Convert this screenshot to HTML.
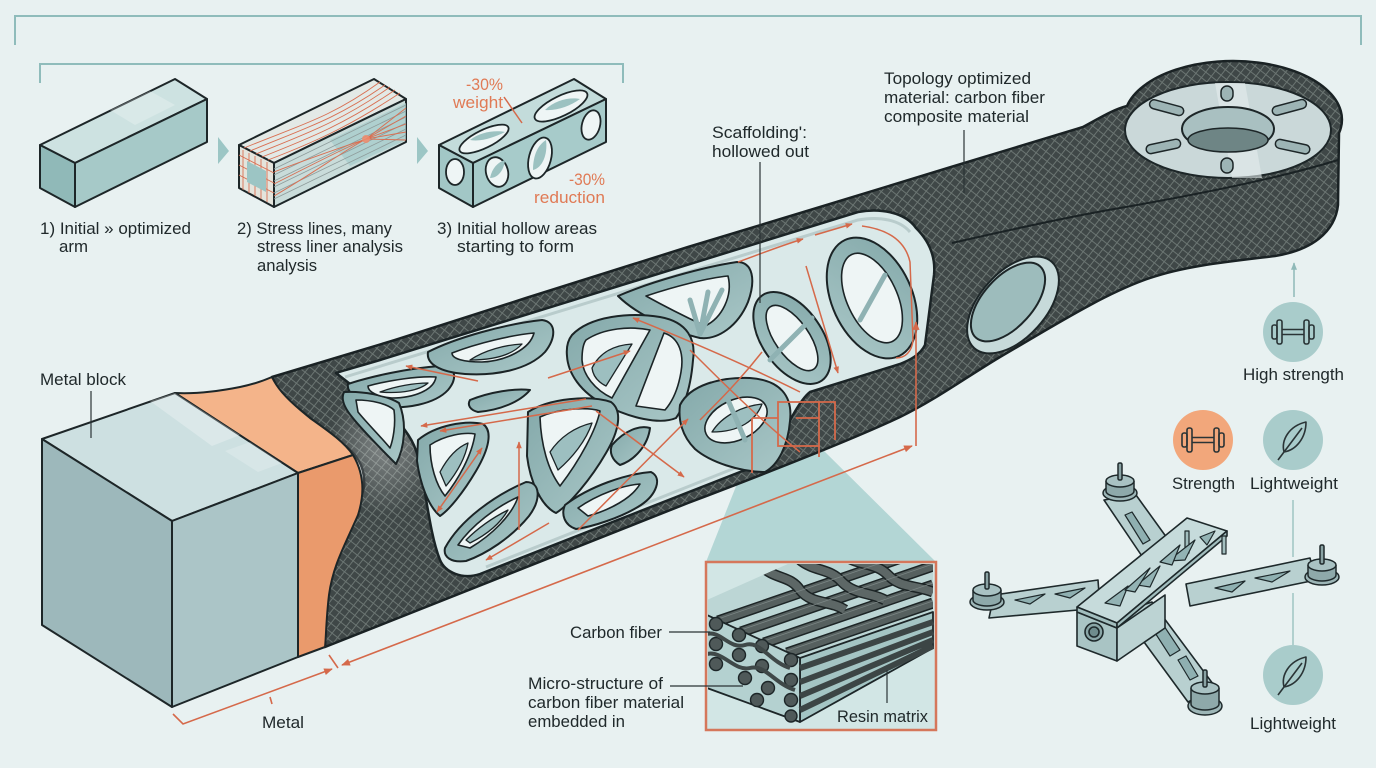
<!DOCTYPE html>
<html><head><meta charset="utf-8">
<style>html,body{margin:0;padding:0;background:#e8f1f1;}svg{display:block}</style>
</head>
<body>
<svg width="1376" height="768" viewBox="0 0 1376 768" xmlns="http://www.w3.org/2000/svg" font-family="'Liberation Sans', sans-serif">
<defs>
<pattern id="cf" width="7" height="7" patternUnits="userSpaceOnUse" patternTransform="rotate(38)">
<rect width="7" height="7" fill="#3f4747"/>
<path d="M0,0.5H7M0.5,0V7" stroke="#6b7572" stroke-width="1"/>
</pattern>
<marker id="ar" viewBox="0 0 10 8" refX="9" refY="4" markerWidth="9" markerHeight="7" markerUnits="userSpaceOnUse" orient="auto-start-reverse"><path d="M0,0L10,4L0,8z" fill="#d5694a"/></marker>
<marker id="as" viewBox="0 0 10 8" refX="9" refY="4" markerWidth="7" markerHeight="6" markerUnits="userSpaceOnUse" orient="auto-start-reverse"><path d="M0,0L10,4L0,8z" fill="#d5694a"/></marker>
<marker id="at" viewBox="0 0 10 8" refX="9" refY="4" markerWidth="8" markerHeight="6" markerUnits="userSpaceOnUse" orient="auto"><path d="M0,0L10,4L0,8z" fill="#8fb9b8"/></marker>
<linearGradient id="hole" x1="0" y1="0" x2="1" y2="1">
<stop offset="0" stop-color="#84a9aa"/><stop offset="1" stop-color="#a9c7c7"/>
</linearGradient>
<radialGradient id="sheen" cx="0.5" cy="0.5" r="0.5">
<stop offset="0" stop-color="#ffffff" stop-opacity="0.35"/><stop offset="1" stop-color="#ffffff" stop-opacity="0"/>
</radialGradient>
<clipPath id="fb"><rect x="708" y="564" width="226" height="164"/></clipPath>
<clipPath id="ftop"><polygon points="707,615 800,658 933,612 933,563 790,563 707,600"/></clipPath>
</defs>

<rect width="1376" height="768" fill="#e8f1f1"/>

<!-- brackets -->
<path d="M15,45 V16 H1361 V45" fill="none" stroke="#8fbcbb" stroke-width="2"/>
<path d="M40,83 V64 H623 V83" fill="none" stroke="#8fbcbb" stroke-width="2"/>

<!-- Box 1 -->
<g stroke="#1d2628" stroke-width="2" stroke-linejoin="round">
<polygon points="40,145 175,79 207,99 75,163" fill="#cde2e1"/>
<polygon points="75,163 207,99 207,142 75,207" fill="#a6c9c8"/>
<polygon points="40,145 75,163 75,207 40,188" fill="#90b9b8"/>
</g>
<polygon points="110,110 150,91 175,105 135,125" fill="#ffffff" opacity="0.25"/>

<!-- chevrons -->
<polygon points="218,137 229,151 218,164" fill="#9cc6c5"/>
<polygon points="417,137 428,151 417,164" fill="#9cc6c5"/>

<!-- Box 2 -->
<g stroke="#1d2628" stroke-width="2" stroke-linejoin="round">
<polygon points="239,145 374,79 406,99 274,163" fill="#e3e9e6"/>
<polygon points="274,163 406,99 406,142 274,207" fill="#c9dcda"/>
<polygon points="239,145 274,163 274,207 239,188" fill="#e4e4dc"/>
</g>
<polygon points="330,140 406,103 406,140 350,166" fill="#a9cdcc" opacity="0.8"/>
<g stroke="#8e9c9b" stroke-width="0.8" fill="none">
<path d="M274,169 L406,105 M274,175 L406,111 M274,181 L406,117 M274,187 L406,123 M274,193 L406,129 M274,199 L406,135"/>
</g>
<g stroke="#d96f52" stroke-width="0.9" fill="none">
<path d="M244,148 C300,125 330,118 380,82 M250,151 C300,130 335,120 385,85 M256,154 C305,134 340,122 390,87 M262,157 C310,138 345,124 395,90 M268,160 C315,142 350,126 400,93"/>
<path d="M274,172 C310,158 340,148 366,139 M274,184 C310,166 340,150 366,139 M274,196 C312,174 342,152 366,139 M366,139 L406,108 M366,139 L406,116 M366,139 L406,124 M366,139 L406,132 M366,139 L406,140"/>
<path d="M243,150 V190 M249,153 V193 M255,156 V196 M261,159 V199 M267,162 V202 M239,155 L274,173 M239,165 L274,183 M239,175 L274,193"/>
</g>
<polygon points="247,161 266,171 266,192 247,182" fill="#9cc5c4"/>
<circle cx="366" cy="139" r="4" fill="#f08a6a" opacity="0.85"/>

<!-- Box 3 -->
<g stroke="#1d2628" stroke-width="2" stroke-linejoin="round">
<polygon points="439,145 574,79 606,99 473,163" fill="#c3dcdb"/>
<polygon points="473,163 606,99 606,142 473,207" fill="#a7cbca"/>
<polygon points="439,145 473,163 473,207 439,188" fill="#a2c7c6"/>
</g>
<g stroke="#1d2628" stroke-width="1.8" fill="#eef5f5">
<ellipse cx="484" cy="139" rx="27" ry="9" transform="rotate(-26 484 139)"/>
<ellipse cx="561" cy="106" rx="29" ry="10" transform="rotate(-26 561 106)"/>
<ellipse cx="455" cy="172" rx="9" ry="13"/>
<ellipse cx="497" cy="172" rx="11" ry="15" transform="rotate(-15 497 172)"/>
<ellipse cx="540" cy="158" rx="11" ry="21" transform="rotate(15 540 158)"/>
<ellipse cx="591" cy="125" rx="9" ry="15" transform="rotate(15 591 125)"/>
</g>
<g fill="#9cc2c1">
<path d="M470,140 C480,132 495,130 505,132 C495,137 482,142 470,140Z"/>
<path d="M545,110 C555,100 570,97 580,99 C570,106 557,111 545,110Z"/>
<path d="M490,178 C492,168 498,162 505,160 C504,170 498,178 490,178Z"/>
<path d="M533,170 C533,155 538,145 546,140 C548,155 542,168 533,170Z"/>
</g>
<line x1="504" y1="97" x2="522" y2="123" stroke="#d5694a" stroke-width="1.5"/>

<!-- step labels -->
<g fill="#20292b" font-size="17">
<text x="40" y="234" textLength="151" lengthAdjust="spacingAndGlyphs">1) Initial » optimized</text>
<text x="59" y="252" textLength="29" lengthAdjust="spacingAndGlyphs">arm</text>
<text x="237" y="234" textLength="155" lengthAdjust="spacingAndGlyphs">2) Stress lines, many</text>
<text x="257" y="252" textLength="146" lengthAdjust="spacingAndGlyphs">stress liner analysis</text>
<text x="257" y="271" textLength="60" lengthAdjust="spacingAndGlyphs">analysis</text>
<text x="437" y="234" textLength="160" lengthAdjust="spacingAndGlyphs">3) Initial hollow areas</text>
<text x="457" y="252" textLength="117" lengthAdjust="spacingAndGlyphs">starting to form</text>
</g>
<g fill="#e07a55" font-size="17">
<text x="466" y="90" textLength="37" lengthAdjust="spacingAndGlyphs">-30%</text>
<text x="453" y="108" textLength="50" lengthAdjust="spacingAndGlyphs">weight</text>
<text x="569" y="185" textLength="36" lengthAdjust="spacingAndGlyphs">-30%</text>
<text x="534" y="203" textLength="71" lengthAdjust="spacingAndGlyphs">reduction</text>
</g>

<!-- funnel -->
<polygon points="752,446 819,446 936,562 706,562" fill="#b3d6d5"/>

<!-- ARM carbon -->
<path d="M272,377 L395,340 L526,298 L688,247 L820,207 L951,167 L1083,127 C1100,118 1112,110 1127,106 A108,58 0 0 1 1339,133 L1338,205 C1335,232 1312,250 1275,256 C1225,262 1185,266 1150,278 C1105,293 1050,328 1000,357 C965,378 935,400 900,417 C860,436 780,468 688,503 L325,647 C326,610 328,580 333,560 C345,530 360,505 364,487 C366,465 355,452 340,442 C320,427 295,405 281,395 Z" fill="url(#cf)" stroke="#1a2224" stroke-width="2.5" stroke-linejoin="round"/>
<ellipse cx="385" cy="445" rx="55" ry="70" fill="url(#sheen)"/>
<path d="M952,243 C1000,232 1067,217 1120,208 C1200,194 1280,178 1338,160" fill="none" stroke="#1a2224" stroke-width="2"/>

<!-- round end disk -->
<g stroke="#1d2628" stroke-linejoin="round">
<ellipse cx="1228" cy="130" rx="103" ry="48" fill="#cad8d9" stroke-width="2"/>
<path d="M1215,83 L1245,83 L1262,178 L1232,178 Z" fill="#e4eded" stroke="none" opacity="0.6"/>
<ellipse cx="1228" cy="129" rx="46" ry="22" fill="#a9c0c1" stroke-width="2"/>
<ellipse cx="1228" cy="140" rx="40" ry="12" fill="#6e8585" stroke-width="1.5"/>
<g fill="#9db4b5" stroke-width="1.5">
<rect x="1221" y="86" width="12" height="15" rx="6"/>
<rect x="1221" y="158" width="12" height="15" rx="6"/>
<rect x="1149" y="103" width="35" height="9" rx="4.5" transform="rotate(15 1166 108)"/>
<rect x="1272" y="103" width="35" height="9" rx="4.5" transform="rotate(-15 1289 108)"/>
<rect x="1146" y="142" width="35" height="9" rx="4.5" transform="rotate(-12 1163 147)"/>
<rect x="1275" y="142" width="35" height="9" rx="4.5" transform="rotate(12 1292 147)"/>
</g>
</g>

<!-- side oval hole -->
<g stroke="#1d2628" stroke-width="2">
<ellipse cx="1013" cy="305" rx="58" ry="33" transform="rotate(-48 1013 305)" fill="#c7dada"/>
<ellipse cx="1008" cy="302" rx="48" ry="25" transform="rotate(-48 1008 302)" fill="#9dbcbc"/>
</g>

<!-- orange band -->
<g stroke="#1d2628" stroke-width="2" stroke-linejoin="round">
<path d="M175,393 C195,394 215,392 240,387 C255,384 265,380 272,377 C278,390 290,402 310,418 C330,432 345,443 353,455 L298,473 Z" fill="#f4b48a"/>
<path d="M298,473 L353,455 C362,470 366,490 358,515 C345,545 333,565 329,595 C326,620 326,640 325,647 L298,657 Z" fill="#ea9a6c"/>
</g>

<!-- metal block -->
<g stroke="#1d2628" stroke-width="2" stroke-linejoin="round">
<polygon points="42,439 175,393 298,473 172,521" fill="#cde0e1"/>
<polygon points="42,439 172,521 172,707 42,625" fill="#9db8bb"/>
<polygon points="172,521 298,473 298,657 172,707" fill="#abc5c7"/>
</g>
<polygon points="150,401 175,393 240,435 212,446" fill="#ffffff" opacity="0.28"/>
<polygon points="225,451 250,442 282,463 258,472" fill="#ffffff" opacity="0.2"/>

<!-- window lattice -->
<path d="M336,373 C345,370 360,366 380,360 L858,212 C880,208 905,212 916,228 C928,240 936,255 934,275 L925,345 C920,355 910,360 900,364 L810,392 C800,400 790,420 780,440 C770,458 758,466 740,472 L480,574 C462,580 445,572 440,560 C432,540 428,510 422,475 C418,450 412,438 400,424 C385,410 360,392 336,373 Z" fill="#dae9e9" stroke="#1b2426" stroke-width="2.5" stroke-linejoin="round"/>
<path d="M345,377 L858,220 C880,216 900,220 910,232" fill="none" stroke="#b9cccc" stroke-width="3"/>
<path d="M486,567 L740,466" fill="none" stroke="#b9cccc" stroke-width="3"/>
<g stroke="#1b2426" stroke-width="2" fill="url(#hole)" stroke-linejoin="round">
<path d="M348,384 C372,376 410,368 440,366 C456,366 458,378 448,390 C435,404 405,410 380,406 C360,402 346,394 348,384Z"/>
<path d="M428,352 C455,338 505,324 542,320 C557,322 556,338 545,352 C528,370 495,376 465,374 C440,372 426,364 428,352Z"/>
<path d="M618,296 C650,282 703,267 737,262 C753,262 756,280 748,302 C738,326 718,340 700,338 C678,333 638,316 618,296Z"/>
<ellipse cx="792" cy="338" rx="52" ry="30" transform="rotate(55 792 338)"/>
<ellipse cx="872" cy="298" rx="64" ry="40" transform="rotate(65 872 298)"/>
<path d="M344,392 C362,391 386,395 399,403 C407,422 405,447 396,464 C384,452 364,432 352,417 C343,406 341,398 344,392Z"/>
<path d="M572,335 C590,316 630,312 660,317 C688,322 696,340 693,360 C691,385 685,405 676,418 C660,425 630,418 605,405 C580,392 568,373 567,356 C566,346 568,340 572,335Z"/>
<path d="M680,405 C690,385 720,377 750,378 C780,380 793,396 790,421 C788,446 778,465 765,472 C740,472 710,462 695,449 C682,436 678,420 680,405Z"/>
<path d="M418,440 C436,425 466,420 483,424 C493,431 489,449 476,471 C463,493 449,510 440,516 C428,506 420,483 417,461Z"/>
<path d="M528,412 C550,398 590,395 611,402 C623,411 619,431 606,453 C591,479 569,505 556,513 C541,506 530,481 527,456Z"/>
<path d="M565,505 C590,486 626,474 651,472 C663,478 656,495 641,505 C621,518 591,527 576,529 C564,525 561,514 565,505Z"/>
<path d="M445,548 C460,520 495,495 526,482 C541,482 541,500 529,516 C511,538 486,554 466,561 C451,563 443,557 445,548Z"/>
<path d="M470,400 C490,392 515,388 530,390 C520,402 500,410 478,412 C470,410 467,405 470,400Z"/>
<path d="M612,445 C625,430 640,425 650,428 C648,445 635,460 620,465 C612,460 609,452 612,445Z"/>
</g>
<g stroke="#1b2426" stroke-width="1.6" fill="#eef5f5" stroke-linejoin="round">
<path d="M368,386 C390,380 418,376 436,377 C434,390 414,398 392,398 C378,397 368,392 368,386Z"/>
<path d="M452,353 C478,343 512,335 534,333 C530,349 506,361 482,362 C464,362 452,359 452,353Z"/>
<path d="M646,296 C676,286 708,278 728,276 C733,296 722,318 705,326 C688,318 664,306 646,296Z"/>
<ellipse cx="792" cy="338" rx="38" ry="17" transform="rotate(55 792 338)"/>
<ellipse cx="872" cy="298" rx="48" ry="25" transform="rotate(65 872 298)"/>
<path d="M356,400 C372,400 388,404 394,410 C396,425 393,440 390,448 C380,436 366,422 358,412Z"/>
<path d="M586,340 C604,328 630,326 650,330 L612,398 C595,390 583,375 582,360 C582,350 583,344 586,340Z"/>
<path d="M664,333 C680,338 684,355 681,372 C678,390 672,402 665,410 L636,406Z"/>
<ellipse cx="736" cy="420" rx="33" ry="20" transform="rotate(-25 736 420)"/>
<path d="M430,445 C445,435 465,432 475,434 C472,455 458,480 445,496 C436,485 430,465 430,445Z"/>
<path d="M540,417 C560,408 588,407 600,411 C596,430 580,460 560,486 C548,470 541,445 540,417Z"/>
<path d="M578,508 C598,494 624,485 640,484 C632,498 610,510 588,516Z"/>
<path d="M458,545 C472,525 496,507 518,497 C512,515 492,535 470,548Z"/>
</g>
<!-- back-wall struts seen through openings -->
<g stroke="#1b2426" stroke-width="1.3" fill="#9dbfc0" stroke-linejoin="round">
<path d="M470,360 C485,350 505,345 522,344 C512,355 495,360 470,360Z"/>
<path d="M592,368 C600,352 615,345 632,344 L606,386 C598,382 593,376 592,368Z"/>
<path d="M712,432 C722,416 742,406 762,404 C756,420 740,432 712,432Z"/>
<path d="M440,472 C448,457 458,447 468,443 C465,460 455,475 446,486Z"/>
<path d="M550,452 C560,437 575,427 592,423 C586,441 572,458 558,470Z"/>
<path d="M466,540 C478,528 492,518 508,510 C500,524 486,535 470,543Z"/>
<path d="M380,392 C396,386 415,383 428,383 C420,390 402,394 380,392Z"/>
</g>
<g stroke="#8fb2b3" stroke-width="5" fill="none" stroke-linecap="round">
<path d="M700,334 L690,300 M700,334 L708,292 M700,334 L722,290"/>
<path d="M770,360 L812,318 M860,320 L885,275"/>
<path d="M745,440 L728,400"/>
</g>

<!-- lattice red flow arrows -->
<g stroke="#d5694a" stroke-width="1.5" fill="none">
<path d="M478,381 L406,366" marker-end="url(#as)"/>
<path d="M548,378 L630,351" marker-end="url(#as)"/>
<path d="M800,392 C760,372 700,345 633,318" marker-end="url(#as)"/>
<path d="M586,399 L421,426" marker-end="url(#as)"/>
<path d="M592,406 L440,431" marker-end="url(#as)"/>
<path d="M738,262 C760,254 780,246 803,239" marker-end="url(#as)"/>
<path d="M815,235 L852,224" marker-end="url(#as)"/>
<path d="M806,266 L838,373" marker-end="url(#as)"/>
<path d="M862,226 C892,230 906,244 910,262 L913,340 C912,352 905,358 896,358"/>
<path d="M690,350 C720,380 760,420 800,452"/>
<path d="M700,420 C720,400 740,380 762,352"/>
<path d="M549,523 L486,560" marker-end="url(#as)"/>
<path d="M482,448 L437,512" marker-start="url(#as)" marker-end="url(#as)"/>
<path d="M519,530 L519,442" marker-end="url(#as)"/>
<path d="M578,530 L688,419" marker-end="url(#as)"/>
<path d="M596,411 L684,477" marker-end="url(#as)"/>
</g>

<!-- callout squares -->
<g stroke="#d5694a" stroke-width="1.8" fill="none">
<rect x="778" y="402" width="41" height="44"/>
<path d="M752,418 H778 M752,418 V473 M819,402 H835 V440 M796,418 H819 M819,446 V457"/>
</g>

<!-- dimension lines -->
<g stroke="#d5694a" stroke-width="1.6" fill="none">
<path d="M342,665 L912,446" marker-start="url(#ar)" marker-end="url(#ar)"/>
<path d="M916,446 L916,322" marker-end="url(#ar)"/>
<path d="M173,714 L183,724 L332,669" marker-end="url(#ar)"/>
<path d="M329,655 L338,668 M270,697 L272,704"/>
</g>

<!-- fiber box -->
<rect x="706" y="562" width="230" height="168" fill="#d2e6e5"/>
<g clip-path="url(#fb)">
<polygon points="707,615 800,658 933,612 933,563 790,563 707,600" fill="#bcd6d5"/>
<g clip-path="url(#ftop)" fill="none" stroke-linecap="butt">
<g stroke="#1d2526" stroke-width="11">
<path d="M718,621 L933,547 M741,632 L933,566 M764,643 L933,585 M787,653 L933,603"/>
</g>
<g stroke="#56605f" stroke-width="8">
<path d="M718,621 L933,547 M741,632 L933,566 M764,643 L933,585 M787,653 L933,603"/>
</g>
<g stroke="#1d2526" stroke-width="11">
<path d="M760,565 C775,580 790,575 800,590 C812,605 830,600 845,610"/>
<path d="M800,560 C815,572 830,568 842,582 C855,595 870,592 885,600"/>
<path d="M845,556 C860,566 875,562 888,575 C900,588 915,585 933,592"/>
</g>
<g stroke="#5d6766" stroke-width="8">
<path d="M760,565 C775,580 790,575 800,590 C812,605 830,600 845,610"/>
<path d="M800,560 C815,572 830,568 842,582 C855,595 870,592 885,600"/>
<path d="M845,556 C860,566 875,562 888,575 C900,588 915,585 933,592"/>
</g>
<g stroke="#7a8584" stroke-width="0.8">
<path d="M718,619 L933,545 M741,630 L933,564 M764,641 L933,583 M787,651 L933,601"/>
</g>
</g>
<g stroke="#1d2628" stroke-width="1.8" stroke-linejoin="round">
<polygon points="800,658 933,612 933,648 800,722" fill="#a4c5c4"/>
<polygon points="707,615 800,658 800,722 707,688" fill="#b4d1d0"/>
</g>
<g stroke="#3c4545" stroke-width="6" fill="none">
<path d="M800,668 L933,622 M800,682 L933,632 M800,696 L933,640 M800,710 L933,646"/>
</g>
<g stroke="#1d2628" stroke-width="1.4" fill="#4f5959">
<circle cx="716" cy="624" r="6.5"/><circle cx="739" cy="635" r="6.5"/><circle cx="762" cy="646" r="6.5"/><circle cx="791" cy="660" r="6.5"/>
<circle cx="716" cy="644" r="6.5"/><circle cx="739" cy="655" r="6.5"/><circle cx="762" cy="666" r="6.5"/><circle cx="791" cy="680" r="6.5"/>
<circle cx="716" cy="664" r="6.5"/><circle cx="745" cy="678" r="6.5"/><circle cx="768" cy="688" r="6.5"/><circle cx="791" cy="700" r="6.5"/>
<circle cx="757" cy="700" r="6.5"/><circle cx="791" cy="716" r="6"/>
</g>
<path d="M707,634 C720,630 730,650 745,645 C760,640 770,662 790,668" stroke="#3f4848" stroke-width="4" fill="none"/>
<path d="M707,654 C722,650 735,672 750,668 C765,664 775,684 795,690" stroke="#3f4848" stroke-width="4" fill="none"/>
</g>
<rect x="706" y="562" width="230" height="168" fill="none" stroke="#d5775b" stroke-width="2.5"/>

<!-- leaders -->
<g stroke="#2a3335" stroke-width="1.2">
<line x1="91" y1="391" x2="91" y2="438"/>
<line x1="760" y1="162" x2="760" y2="303"/>
<line x1="964" y1="130" x2="964" y2="193"/>
<line x1="669" y1="632" x2="710" y2="632"/>
<line x1="670" y1="686" x2="743" y2="686"/>
<line x1="887" y1="670" x2="887" y2="703"/>
</g>

<!-- main labels -->
<g fill="#20292b" font-size="17">
<text x="884" y="84" textLength="147" lengthAdjust="spacingAndGlyphs">Topology optimized</text>
<text x="884" y="103" textLength="161" lengthAdjust="spacingAndGlyphs">material: carbon fiber</text>
<text x="884" y="122" textLength="145" lengthAdjust="spacingAndGlyphs">composite material</text>
<text x="712" y="138" textLength="95" lengthAdjust="spacingAndGlyphs">Scaffolding':</text>
<text x="712" y="157" textLength="97" lengthAdjust="spacingAndGlyphs">hollowed out</text>
<text x="40" y="385" textLength="86" lengthAdjust="spacingAndGlyphs">Metal block</text>
<text x="262" y="728" textLength="42" lengthAdjust="spacingAndGlyphs">Metal</text>
<text x="570" y="638" textLength="92" lengthAdjust="spacingAndGlyphs">Carbon fiber</text>
<text x="528" y="689" textLength="135" lengthAdjust="spacingAndGlyphs">Micro-structure of</text>
<text x="528" y="708" textLength="156" lengthAdjust="spacingAndGlyphs">carbon fiber material</text>
<text x="528" y="727" textLength="97" lengthAdjust="spacingAndGlyphs">embedded in</text>
<text x="837" y="722" textLength="91" lengthAdjust="spacingAndGlyphs">Resin matrix</text>
<text x="1243" y="380" textLength="101" lengthAdjust="spacingAndGlyphs">High strength</text>
<text x="1172" y="489" textLength="63" lengthAdjust="spacingAndGlyphs">Strength</text>
<text x="1250" y="489" textLength="88" lengthAdjust="spacingAndGlyphs">Lightweight</text>
<text x="1250" y="729" textLength="86" lengthAdjust="spacingAndGlyphs">Lightweight</text>
</g>

<!-- icons -->
<line x1="1294" y1="297" x2="1294" y2="263" stroke="#8fb9b8" stroke-width="1.5" marker-end="url(#at)"/>
<g stroke="#9fc4c3" stroke-width="1.5">
<line x1="1293" y1="500" x2="1293" y2="557"/>
<line x1="1293" y1="593" x2="1293" y2="645"/>
</g>
<circle cx="1293" cy="332" r="30" fill="#a9cccb"/>
<circle cx="1203" cy="440" r="30" fill="#f2a77b"/>
<circle cx="1293" cy="440" r="30" fill="#a9cccb"/>
<circle cx="1293" cy="675" r="30" fill="#a9cccb"/>
<g fill="none" stroke="#2a3436" stroke-width="1.6" stroke-linejoin="round">
<g transform="translate(1293,332)">
<path d="M-11,-2.5 H11 M-11,2.5 H11"/>
<rect x="-16" y="-12" width="5" height="24" rx="2"/><rect x="-21" y="-7" width="5" height="14" rx="2"/>
<rect x="11" y="-12" width="5" height="24" rx="2"/><rect x="16" y="-7" width="5" height="14" rx="2"/>
</g>
<g transform="translate(1203,440)">
<path d="M-11,-2.5 H11 M-11,2.5 H11"/>
<rect x="-16" y="-12" width="5" height="24" rx="2"/><rect x="-21" y="-7" width="5" height="14" rx="2"/>
<rect x="11" y="-12" width="5" height="24" rx="2"/><rect x="16" y="-7" width="5" height="14" rx="2"/>
</g>
<g transform="translate(1293,440)">
<path d="M13,-18 C-4,-14 -12,0 -9,12 C3,10 13,-2 13,-18Z M9,-12 L-15,20"/>
</g>
<g transform="translate(1293,675)">
<path d="M13,-18 C-4,-14 -12,0 -9,12 C3,10 13,-2 13,-18Z M9,-12 L-15,20"/>
</g>
</g>

<!-- drone -->
<g stroke="#1e292b" stroke-width="1.6" stroke-linejoin="round">
<polygon points="1104,500 1136,495 1180,556 1150,568" fill="#b8d0d0"/>
<polygon points="994,595 1098,580 1100,608 989,618" fill="#b8d0d0"/>
<polygon points="1186,584 1310,558 1316,580 1190,606" fill="#b8d0d0"/>
<polygon points="1122,612 1152,602 1216,688 1188,702" fill="#b8d0d0"/>
<g fill="#8fb0b1" stroke-width="1.2">
<polygon points="1125,515 1132,512 1150,540 1143,544"/>
<polygon points="1015,600 1045,594 1030,604"/>
<polygon points="1055,594 1085,588 1070,598"/>
<polygon points="1215,588 1245,581 1232,592"/>
<polygon points="1255,578 1290,571 1272,582"/>
<polygon points="1150,625 1160,620 1180,650 1170,656"/>
<polygon points="1178,660 1186,656 1198,676 1190,680"/>
</g>
<polygon points="1077,612 1117,628 1117,661 1077,646" fill="#a9c4c4"/>
<polygon points="1117,628 1165,595 1165,628 1117,661" fill="#bcd3d3"/>
<circle cx="1094" cy="632" r="9" fill="#8aa6a7"/>
<circle cx="1094" cy="632" r="5" fill="#6f8c8d"/>
<polygon points="1077,607 1187,518 1227,531 1117,623" fill="#c6dbdb"/>
<polygon points="1077,607 1117,623 1117,628 1077,612" fill="#a2bebe"/>
<polygon points="1117,623 1227,531 1227,536 1117,628" fill="#a2bebe"/>
<rect x="1185" y="531" width="4" height="22" fill="#a2bebe" stroke-width="1.2"/>
<rect x="1222" y="536" width="4" height="18" fill="#a2bebe" stroke-width="1.2"/>
<g fill="#93b3b4" stroke-width="1.2">
<polygon points="1105,603 1128,586 1120,606"/>
<polygon points="1137,585 1160,566 1150,587"/>
<polygon points="1168,561 1195,540 1185,560"/>
<polygon points="1200,537 1215,531 1207,545"/>
<polygon points="1125,590 1150,568 1135,592"/>
<polygon points="1160,562 1180,545 1172,565"/>
</g>
</g>
<g stroke="#1e292b" stroke-width="1.5">
<g transform="translate(1120,481)">
<ellipse cx="0" cy="12" rx="17" ry="8" fill="#9db6b7"/>
<path d="M-14,0 V10 A14,6 0 0 0 14,10 V0" fill="#8ea9aa"/>
<ellipse cx="0" cy="0" rx="14" ry="6" fill="#a9c2c3"/>
<rect x="-2" y="-18" width="4" height="17" rx="1.5" fill="#8aa3a4"/>
</g>
<g transform="translate(987,590)">
<ellipse cx="0" cy="12" rx="17" ry="8" fill="#9db6b7"/>
<path d="M-14,0 V10 A14,6 0 0 0 14,10 V0" fill="#8ea9aa"/>
<ellipse cx="0" cy="0" rx="14" ry="6" fill="#a9c2c3"/>
<rect x="-2" y="-18" width="4" height="17" rx="1.5" fill="#8aa3a4"/>
</g>
<g transform="translate(1322,565)">
<ellipse cx="0" cy="12" rx="17" ry="8" fill="#9db6b7"/>
<path d="M-14,0 V10 A14,6 0 0 0 14,10 V0" fill="#8ea9aa"/>
<ellipse cx="0" cy="0" rx="14" ry="6" fill="#a9c2c3"/>
<rect x="-2" y="-20" width="4" height="19" rx="1.5" fill="#8aa3a4"/>
</g>
<g transform="translate(1205,688)">
<ellipse cx="0" cy="18" rx="17" ry="9" fill="#9db6b7"/>
<path d="M-14,0 V16 A14,6 0 0 0 14,16 V0" fill="#8ea9aa"/>
<ellipse cx="0" cy="0" rx="14" ry="6" fill="#a9c2c3"/>
<rect x="-2" y="-18" width="4" height="17" rx="1.5" fill="#8aa3a4"/>
</g>
</g>
</svg>
</body>
</html>
